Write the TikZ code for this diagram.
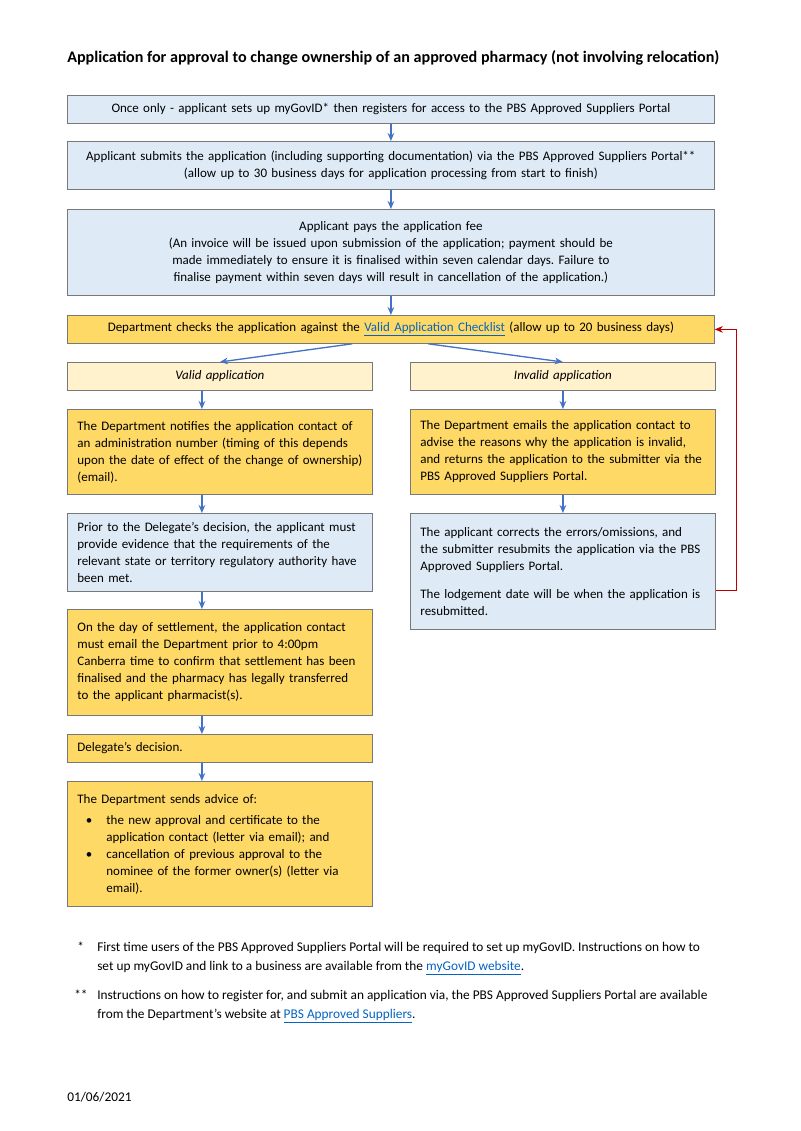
\documentclass[tikz,border=0pt]{standalone}
\usepackage{fontspec}
\setmainfont{Carlito}
\definecolor{boxblue}{RGB}{222, 235, 247}
\definecolor{boxgold}{RGB}{255, 217, 102}
\definecolor{boxcream}{RGB}{255, 242, 204}
\definecolor{edgegray}{RGB}{120, 120, 120}
\definecolor{arrowblue}{RGB}{68, 114, 196}
\definecolor{backred}{RGB}{192, 0, 0}
\definecolor{linkblue}{RGB}{5, 99, 193}
\usetikzlibrary{arrows.meta, positioning, calc}
\newcommand{\weblink}[1]{\textcolor{linkblue}{\underline{#1}}}
\newcommand{\advitem}[1]{{\hangindent=21.75pt\hangafter=0\noindent\llap{\textbullet\hspace{10.5pt}}#1\par}}
\frenchspacing

\begin{document}
\begin{tikzpicture}[x=0.75pt, y=-0.75pt,
  box/.style={draw=edgegray, fill=#1, line width=0.6pt, anchor=north west, inner xsep=7.5pt, inner ysep=2pt, font=\fontsize{9.75}{12.75}\selectfont},
  wide/.style={text width=470.25pt, align=center},
  half/.style={text width=213.75pt, align=left},
  flow/.style={-{Stealth[length=6pt, width=5pt]}, arrowblue, line width=1pt},
]
  \useasboundingbox (0,0) rectangle (800,1131);
  \node[anchor=west, inner sep=0pt, font=\fontsize{12.1}{14}\selectfont\bfseries] (title) at (67,58)
    {Application for approval to change ownership of an approved pharmacy (not involving relocation)};

  % main column
  \node[box=boxblue, wide, minimum height=21pt] (mygov) at (67,95)
    {Once only - applicant sets up myGovID* then registers for access to the PBS Approved Suppliers Portal};
  \node[box=boxblue, wide, minimum height=36pt] (submit) at (67,141)
    {Applicant submits the application (including supporting documentation) via the PBS Approved Suppliers Portal**\\
     (allow up to 30 business days for application processing from start to finish)};
  \node[box=boxblue, wide, minimum height=64.5pt] (fee) at (67,209)
    {Applicant pays the application fee\\
     (An invoice will be issued upon submission of the application; payment should be\\
     made immediately to ensure it is finalised within seven calendar days. Failure to\\
     finalise payment within seven days will result in cancellation of the application.)};
  \node[box=boxgold, wide, minimum height=21pt] (check) at (67,315)
    {Department checks the application against the \weblink{Valid Application Checklist} (allow up to 20 business days)};

  % valid branch
  \node[box=boxcream, half, align=center, minimum height=21pt, font=\fontsize{9.75}{12.75}\selectfont\itshape] (valid) at (67,362)
    {Valid application};
  \node[box=boxgold, half, minimum height=63.75pt] (notify) at (67,409)
    {The Department notifies the application contact of\\
     an administration number (timing of this depends\\
     upon the date of effect of the change of ownership)\\
     (email).};
  \node[box=boxblue, half, minimum height=58.5pt] (prior) at (67,513)
    {Prior to the Delegate’s decision, the applicant must\\
     provide evidence that the requirements of the\\
     relevant state or territory regulatory authority have\\
     been met.};
  \node[box=boxgold, half, minimum height=79.5pt] (settle) at (67,609)
    {On the day of settlement, the application contact\\
     must email the Department prior to 4:00pm\\
     Canberra time to confirm that settlement has been\\
     finalised and the pharmacy has legally transferred\\
     to the applicant pharmacist(s).};
  \node[box=boxgold, half, minimum height=21pt] (decide) at (67,734)
    {Delegate’s decision.};
  \node[box=boxgold, half, minimum height=93.75pt] (advice) at (67,781)
    {The Department sends advice of:\\[3pt]
     \advitem{the new approval and certificate to the\newline
              application contact (letter via email); and}
     \advitem{cancellation of previous approval to the\newline
              nominee of the former owner(s) (letter via\newline
              email).}};

  % invalid branch
  \node[box=boxcream, half, align=center, minimum height=21pt, font=\fontsize{9.75}{12.75}\selectfont\itshape] (invalid) at (410,362)
    {Invalid application};
  \node[box=boxgold, half, minimum height=63.75pt] (emails) at (410,409)
    {The Department emails the application contact to\\
     advise the reasons why the application is invalid,\\
     and returns the application to the submitter via the\\
     PBS Approved Suppliers Portal.};
  \node[box=boxblue, half, minimum height=87pt] (resubmit) at (410,513)
    {The applicant corrects the errors/omissions, and\\
     the submitter resubmits the application via the PBS\\
     Approved Suppliers Portal.\\[8pt]
     The lodgement date will be when the application is\\
     resubmitted.};

  % arrows
  \draw[flow] (mygov) -- (submit);
  \draw[flow] (submit) -- (fee);
  \draw[flow] (fee) -- (check);
  \draw[flow] ([xshift=-29pt]check.south) -- (valid.north);
  \draw[flow] ([xshift=28pt]check.south) -- (invalid.north);
  \draw[flow] ([xshift=-13.5pt]valid.south) -- ([xshift=-13.5pt]notify.north);
  \draw[flow] ([xshift=-13.5pt]notify.south) -- ([xshift=-13.5pt]prior.north);
  \draw[flow] ([xshift=-13.5pt]prior.south) -- ([xshift=-13.5pt]settle.north);
  \draw[flow] ([xshift=-13.5pt]settle.south) -- ([xshift=-13.5pt]decide.north);
  \draw[flow] ([xshift=-13.5pt]decide.south) -- ([xshift=-13.5pt]advice.north);
  \draw[flow] (invalid) -- (emails);
  \draw[flow] (emails) -- (resubmit);
  \draw[-{Stealth[length=6pt, width=5pt]}, backred, line width=0.6pt]
    ([yshift=-14.25pt]resubmit.east) -- ++(21,0) |- (check.east);

  % footnotes
  \node[anchor=north west, inner sep=0pt, font=\fontsize{10}{12.75}\selectfont] (star1) at (77,942) {*};
  \node[anchor=north west, inner sep=0pt, align=left, font=\fontsize{10}{14}\selectfont] (note1) at (97,942)
    {First time users of the PBS Approved Suppliers Portal will be required to set up myGovID. Instructions on how to\\
     set up myGovID and link to a business are available from the \weblink{myGovID website}.};
  \node[anchor=north west, inner sep=0pt, font=\fontsize{10}{12.75}\selectfont] (star2) at (74,990) {**};
  \node[anchor=north west, inner sep=0pt, align=left, font=\fontsize{10}{14}\selectfont] (note2) at (97,990)
    {Instructions on how to register for, and submit an application via, the PBS Approved Suppliers Portal are available\\
     from the Department’s website at \weblink{PBS Approved Suppliers}.};
  \node[anchor=west, inner sep=0pt, font=\fontsize{10}{12.75}\selectfont] (date) at (67,1097) {01/06/2021};
\end{tikzpicture}
\end{document}
